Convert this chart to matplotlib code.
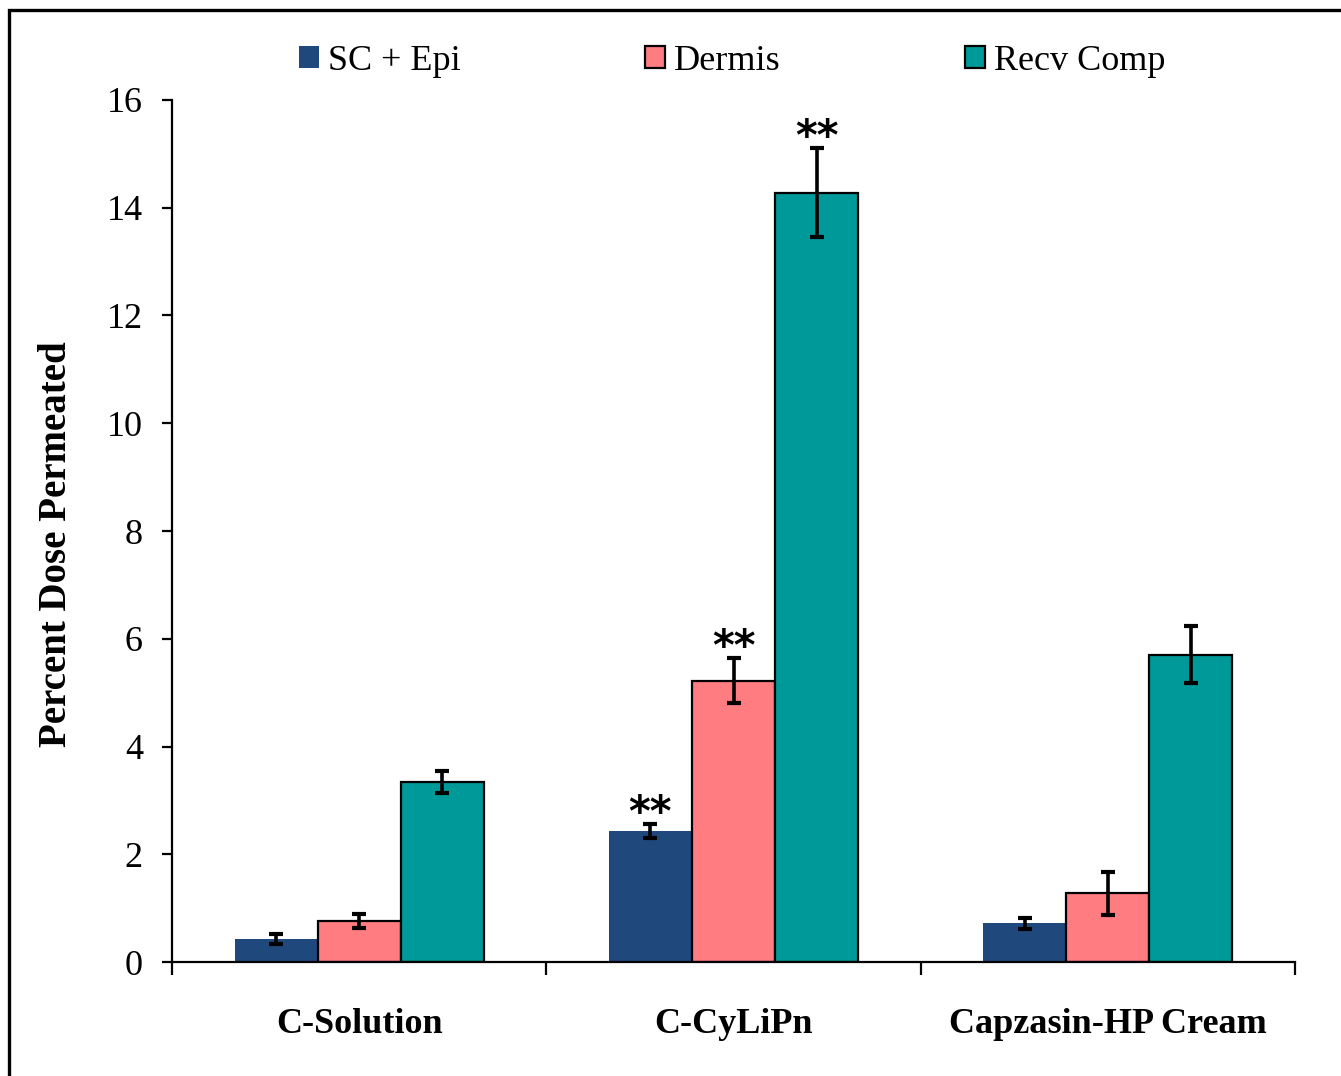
import numpy as np
import matplotlib
matplotlib.use("Agg")
import matplotlib.pyplot as plt
from matplotlib.patches import Rectangle, Patch

# --- Data ---
categories = ["C-Solution", "C-CyLiPn", "Capzasin-HP Cream"]
series_names = ["SC + Epi", "Dermis", "Recv Comp"]
sc_epi = [0.43, 2.44, 0.72]
dermis = [0.76, 5.22, 1.28]
recv_comp = [3.34, 14.28, 5.70]
sc_epi_err = [0.09, 0.13, 0.10]
dermis_err = [0.13, 0.42, 0.40]
recv_comp_err = [0.20, 0.83, 0.53]
# which bars carry the "**" mark
sc_epi_sig = [False, True, False]
dermis_sig = [False, True, False]
recv_comp_sig = [False, True, False]

COLORS = ["#1F497D", "#FF7C80", "#009999"]
SERIF = "Liberation Serif"

plt.rcParams["font.family"] = SERIF

fig = plt.figure(figsize=(13.41, 10.76), dpi=100)
ax = fig.add_axes([0.1283, 0.1059, 0.8374, 0.8012])

x = np.arange(len(categories))
width = 0.222
groups = [
    (sc_epi, sc_epi_err, sc_epi_sig),
    (dermis, dermis_err, dermis_sig),
    (recv_comp, recv_comp_err, recv_comp_sig),
]

for i, (vals, errs, sig) in enumerate(groups):
    pos = x + (i - 1) * width
    edge = "none" if i == 0 else "black"
    ax.bar(pos, vals, width, color=COLORS[i], edgecolor=edge, linewidth=1.6, zorder=2)
    ax.errorbar(pos, vals, yerr=errs, fmt="none", ecolor="black",
                elinewidth=2.6, capsize=5, capthick=3, zorder=3)
    for p, v, e, s in zip(pos, vals, errs, sig):
        if s:
            ax.annotate("**", (p, v + e), xytext=(0, -8), textcoords="offset points",
                        ha="center", va="bottom", fontsize=30, fontweight="bold",
                        family="DejaVu Sans")

# --- axes styling ---
ax.set_xlim(-0.5, 2.5)
ax.set_ylim(0, 16)
ax.set_yticks(np.arange(0, 17, 2))
ax.tick_params(axis="y", direction="out", length=7, width=1.6, labelsize=26, pad=14)
ax.set_xticks([-0.5, 0.5, 1.5, 2.5])
ax.set_xticklabels([])
ax.tick_params(axis="x", which="major", direction="out", length=9, width=1.6)
ax.set_xticks(x, minor=True)
ax.set_xticklabels(categories, minor=True, fontsize=26, fontweight="bold")
ax.tick_params(axis="x", which="minor", length=0, pad=33)
for side in ["top", "right"]:
    ax.spines[side].set_visible(False)
for side in ["left", "bottom"]:
    ax.spines[side].set_linewidth(1.6)

fig.text(57 / 1341, 1 - 544 / 1076, "Percent Dose Permeated", rotation=90,
         ha="center", va="center", fontsize=28, fontweight="bold")

# --- legend ---
handles = [Patch(facecolor=COLORS[0], edgecolor="none"),
           Patch(facecolor=COLORS[1], edgecolor="black", linewidth=1.6),
           Patch(facecolor=COLORS[2], edgecolor="black", linewidth=1.6)]
fig.legend(handles, series_names, loc="center", bbox_to_anchor=(0.546, 0.943),
           ncol=3, frameon=False, fontsize=26, handlelength=0.55, handleheight=0.55,
           handletextpad=0.25, columnspacing=5.1)

# --- outer frame ---
fig.patches.append(Rectangle((9 / 1341, -0.05), 1.2, 1 - 10 / 1076 + 0.05,
                             transform=fig.transFigure, fill=False,
                             edgecolor="black", linewidth=2.4))

fig.savefig("out.png", dpi=100)
